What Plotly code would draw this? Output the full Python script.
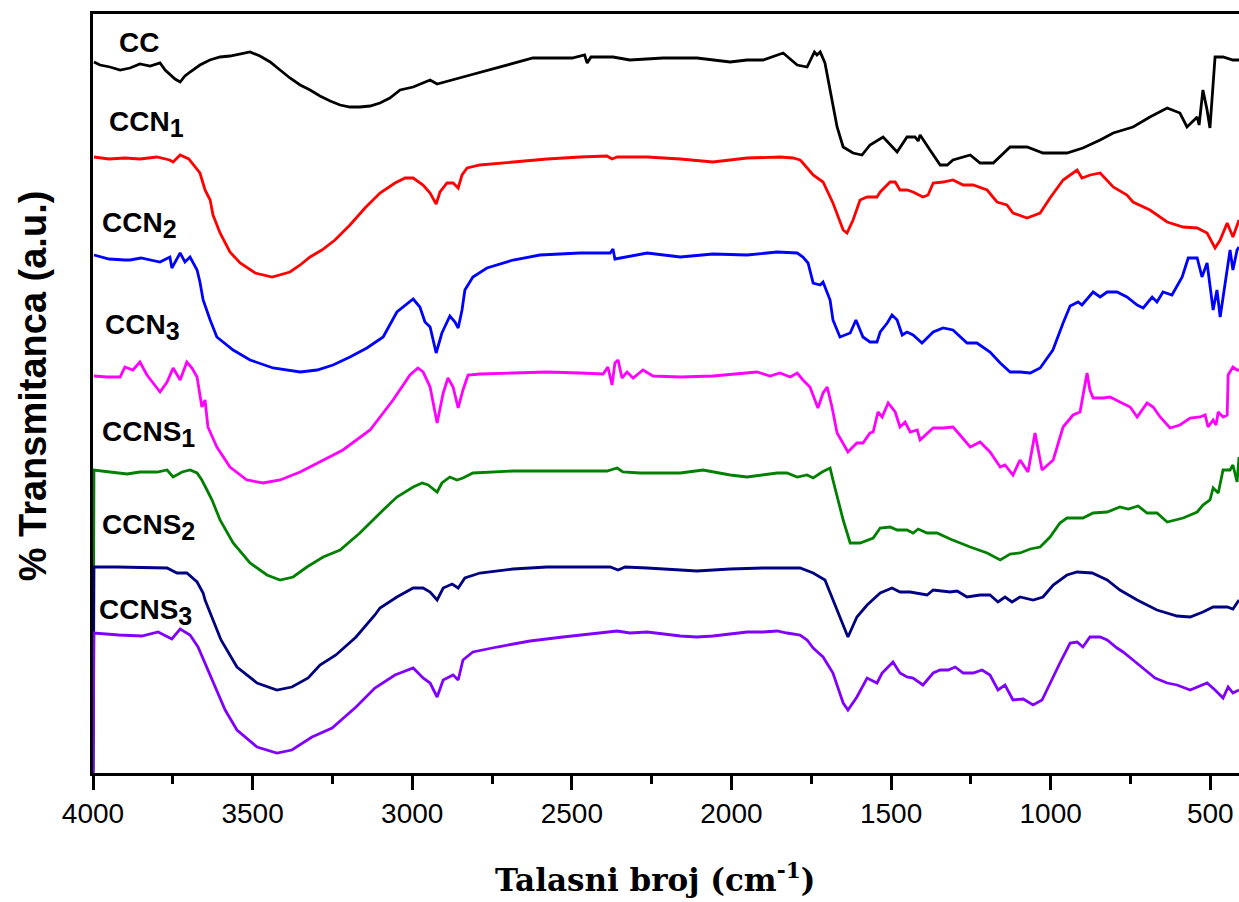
import plotly.graph_objects as go

# ---------------- data (wavenumber cm^-1, transmittance a.u. with offsets) ----------------
cc_x = [3997, 3978, 3947, 3915, 3884, 3853, 3821, 3790, 3774, 3759, 3743, 3727, 3712, 3696, 3665, 3634,
        3602, 3571, 3539, 3508, 3477, 3445, 3414, 3383, 3351, 3320, 3289, 3257, 3226, 3195, 3164, 3132,
        3101, 3070, 3038, 2997, 2944, 2922, 2841, 2734, 2622, 2499, 2460, 2452, 2440, 2371, 2318, 2214,
        2108, 2004, 1951, 1901, 1838, 1794, 1763, 1740, 1732, 1722, 1707, 1691, 1669, 1650, 1619, 1591,
        1566, 1525, 1481, 1450, 1425, 1415, 1409, 1378, 1346, 1324, 1306, 1252, 1221, 1180, 1127, 1074,
        1024, 949, 899, 845, 804, 742, 689, 635, 595, 573, 541, 535, 523, 510, 501, 485, 460, 429, 410]
cc_y = [711, 708, 706, 703, 705, 709, 707, 710, 703, 699, 694, 691, 697, 701, 708, 713,
        716, 717, 719, 721, 717, 711, 703, 695, 688, 683, 677, 672, 668, 666, 666, 667,
        670, 675, 683, 686, 693, 689, 696, 705, 715, 715, 718, 710, 716, 716, 713, 715,
        715, 711, 713, 713, 720, 708, 706, 721, 718, 721, 710, 683, 646, 626, 620, 618,
        628, 636, 621, 636, 636, 632, 638, 623, 608, 608, 613, 618, 610, 610, 626, 626,
        620, 620, 625, 633, 640, 646, 656, 665, 660, 646, 656, 648, 683, 663, 645, 716, 716, 713, 713]

ccn1_x = [3997, 3950, 3900, 3853, 3800, 3760, 3749, 3727, 3700, 3680, 3665, 3649, 3633, 3624, 3602, 3571,
          3539, 3492, 3439, 3383, 3351, 3320, 3283, 3242, 3195, 3148, 3101, 3054, 3022, 2997, 2966, 2944,
          2925, 2913, 2891, 2872, 2856, 2844, 2828, 2788, 2684, 2578, 2474, 2390, 2374, 2358, 2264, 2160,
          2058, 1951, 1848, 1807, 1785, 1776, 1744, 1713, 1682, 1650, 1638, 1619, 1597, 1575, 1544, 1534,
          1503, 1487, 1472, 1450, 1431, 1400, 1384, 1368, 1337, 1306, 1274, 1243, 1199, 1168, 1137, 1118,
          1074, 1033, 1002, 961, 939, 917, 902, 876, 845, 804, 761, 742, 689, 635, 585, 541, 510, 485,
          469, 447, 429, 410]
ccn1_y = [616, 614, 615, 614, 616, 613, 611, 618, 614, 606, 600, 583, 573, 558, 540, 521,
          510, 500, 496, 501, 508, 516, 523, 533, 548, 565, 580, 590, 595, 595, 588, 580,
          569, 581, 590, 590, 585, 598, 605, 608, 611, 614, 616, 617, 614, 616, 616, 614,
          611, 615, 616, 615, 613, 610, 598, 591, 570, 543, 540, 553, 573, 576, 576, 581,
          591, 591, 583, 583, 581, 576, 578, 590, 591, 593, 588, 588, 583, 571, 568, 560,
          555, 560, 575, 593, 598, 603, 595, 598, 600, 586, 578, 571, 563, 551, 546, 545, 540, 525,
          533, 550, 536, 553]

ccn2_x = [3997, 3950, 3900, 3884, 3850, 3790, 3759, 3753, 3727, 3712, 3696, 3674, 3665, 3655, 3633, 3612,
          3561, 3508, 3436, 3351, 3298, 3248, 3195, 3142, 3091, 3048, 2997, 2976, 2960, 2944, 2925, 2907,
          2882, 2866, 2856, 2844, 2835, 2810, 2766, 2684, 2600, 2474, 2380, 2371, 2365, 2264, 2160, 2058,
          1951, 1857, 1794, 1776, 1760, 1744, 1722, 1713, 1691, 1682, 1660, 1628, 1610, 1588, 1566, 1544,
          1534, 1512, 1497, 1481, 1465, 1450, 1431, 1403, 1368, 1337, 1306, 1262, 1231, 1190, 1158, 1127,
          1096, 1064, 1033, 993, 961, 939, 914, 902, 867, 845, 823, 792, 761, 729, 710, 682, 667, 648,
          620, 588, 569, 541, 526, 510, 491, 479, 469, 447, 438, 429, 416, 410]
ccn2_y = [518, 514, 513, 513, 515, 511, 516, 505, 520, 511, 516, 503, 491, 473, 453, 436,
          423, 413, 405, 401, 403, 408, 416, 425, 436, 461, 474, 466, 451, 446, 420, 440,
          457, 451, 445, 463, 483, 496, 505, 513, 518, 520, 520, 524, 514, 520, 516, 519,
          518, 521, 520, 516, 510, 490, 488, 491, 473, 453, 436, 440, 453, 436, 431, 431,
          441, 450, 458, 453, 438, 441, 438, 430, 441, 445, 443, 430, 430, 421, 410, 401,
          401, 400, 405, 423, 450, 467, 471, 468, 481, 476, 481, 481, 476, 468, 465, 476, 471, 481,
          478, 496, 515, 515, 496, 510, 463, 483, 456, 506, 523, 503, 523, 526]

ccn3_x = [3997, 3956, 3915, 3900, 3875, 3853, 3831, 3812, 3790, 3768, 3749, 3727, 3706, 3690, 3674, 3659,
          3649, 3640, 3612, 3571, 3518, 3467, 3414, 3351, 3289, 3217, 3132, 3060, 3007, 2982, 2966, 2944,
          2922, 2903, 2888, 2872, 2856, 2841, 2825, 2788, 2684, 2578, 2474, 2402, 2387, 2374, 2365, 2355,
          2343, 2327, 2308, 2277, 2246, 2160, 2058, 1920, 1879, 1848, 1816, 1794, 1776, 1754, 1729, 1713,
          1700, 1685, 1669, 1650, 1635, 1607, 1588, 1566, 1556, 1541, 1528, 1509, 1487, 1472, 1456, 1440,
          1418, 1409, 1393, 1368, 1337, 1306, 1284, 1252, 1221, 1190, 1158, 1143, 1118, 1096, 1071, 1049,
          1027, 992, 961, 930, 908, 886, 877, 867, 836, 814, 783, 751, 729, 698, 679, 657, 626, 595,
          563, 532, 516, 507, 491, 482, 475, 460, 447, 444, 429, 416, 410]
ccn3_y = [397, 396, 396, 406, 403, 411, 398, 390, 381, 391, 405, 393, 411, 405, 396, 366,
          373, 346, 326, 306, 293, 290, 293, 301, 311, 323, 343, 373, 398, 405, 401, 386,
          350, 380, 395, 386, 365, 383, 398, 399, 400, 401, 400, 399, 406, 388, 410, 413,
          395, 401, 395, 403, 397, 396, 397, 401, 397, 400, 396, 400, 393, 386, 365, 380,
          386, 366, 340, 330, 321, 330, 330, 340, 341, 361, 356, 370, 361, 346, 351, 341,
          343, 333, 338, 345, 345, 346, 338, 326, 331, 321, 306, 308, 298, 313, 301, 340,
          303, 313, 346, 358, 361, 400, 383, 375, 375, 376, 371, 366, 356, 370, 366, 356, 345, 348,
          355, 356, 358, 346, 353, 348, 361, 356, 358, 398, 406, 403, 403]

ccns1_x = [4000, 3997, 3947, 3893, 3853, 3799, 3768, 3749, 3721, 3696, 3674, 3659, 3643, 3627, 3602, 3561,
           3508, 3455, 3414, 3373, 3330, 3279, 3226, 3164, 3091, 3048, 2997, 2969, 2950, 2922, 2907, 2882,
           2860, 2841, 2810, 2684, 2578, 2474, 2390, 2358, 2340, 2286, 2160, 2089, 2004, 1951, 1901, 1857,
           1826, 1794, 1763, 1744, 1716, 1691, 1682, 1650, 1628, 1597, 1556, 1534, 1503, 1481, 1450, 1431,
           1415, 1387, 1356, 1315, 1252, 1199, 1158, 1127, 1096, 1064, 1033, 1002, 971, 949, 899, 867,
           823, 783, 757, 726, 698, 667, 635, 585, 541, 523, 501, 491, 475, 460, 438, 429, 416, 410]
ccns1_y = [0, 303, 301, 299, 301, 301, 303, 296, 301, 303, 300, 293, 283, 273, 253, 230,
           210, 198, 193, 196, 206, 216, 223, 240, 263, 276, 286, 290, 288, 281, 290, 296,
           293, 295, 300, 302, 302, 302, 302, 305, 301, 300, 300, 303, 298, 296, 298, 300,
           300, 296, 298, 295, 301, 305, 293, 253, 230, 230, 235, 245, 246, 243, 243, 240,
           244, 240, 240, 234, 226, 220, 213, 219, 220, 224, 226, 236, 250, 255, 255, 260,
           261, 266, 264, 267, 260, 260, 251, 255, 261, 268, 273, 285, 280, 303, 303, 308, 291, 316]

ccns2_x = [4000, 3997, 3925, 3821, 3768, 3737, 3706, 3674, 3655, 3649, 3599, 3549, 3486, 3424, 3377, 3326,
           3289, 3239, 3176, 3117, 3101, 3048, 2997, 2966, 2944, 2922, 2903, 2875, 2856, 2835, 2788, 2684,
           2578, 2474, 2380, 2355, 2333, 2264, 2160, 2108, 2004, 1901, 1785, 1744, 1707, 1682, 1650, 1635,
           1607, 1575, 1534, 1497, 1472, 1440, 1387, 1368, 1315, 1293, 1262, 1221, 1190, 1165, 1143, 1121,
           1096, 1055, 1024, 992, 949, 917, 870, 823, 783, 729, 667, 604, 563, 523, 491, 447, 429, 410]
ccns2_y = [0, 206, 206, 205, 205, 200, 200, 191, 180, 173, 133, 106, 90, 83, 86, 95,
           108, 118, 136, 158, 165, 176, 185, 185, 181, 173, 185, 189, 185, 195, 200, 204,
           206, 206, 206, 203, 206, 205, 203, 202, 204, 205, 205, 200, 193, 173, 146, 136,
           156, 168, 180, 185, 181, 181, 178, 183, 181, 182, 176, 178, 178, 171, 176, 171,
           176, 173, 176, 188, 198, 201, 200, 193, 183, 173, 163, 157, 156, 161, 166, 166, 164, 173]

ccns3_x = [4000, 3997, 3919, 3847, 3796, 3753, 3727, 3696, 3671, 3649, 3624, 3586, 3549, 3486, 3424, 3377,
           3314, 3251, 3176, 3117, 3054, 2997, 2966, 2944, 2922, 2903, 2872, 2856, 2841, 2810, 2734, 2631,
           2528, 2421, 2358, 2318, 2264, 2160, 2108, 2058, 2004, 1951, 1901, 1857, 1826, 1785, 1763, 1744,
           1713, 1682, 1650, 1635, 1607, 1575, 1544, 1528, 1494, 1472, 1450, 1431, 1400, 1368, 1346, 1321,
           1299, 1274, 1243, 1215, 1190, 1165, 1143, 1118, 1086, 1055, 1027, 1002, 971, 939, 917, 899,
           877, 845, 823, 792, 773, 742, 710, 673, 635, 604, 563, 538, 510, 485, 460, 444, 429, 410]
ccns3_y = [0, 140, 138, 137, 141, 134, 144, 138, 126, 110, 90, 63, 43, 26, 20, 23,
           36, 45, 66, 85, 98, 105, 95, 90, 76, 93, 98, 93, 113, 121, 126, 132,
           136, 140, 142, 140, 141, 137, 136, 137, 139, 141, 141, 142, 140, 138, 133, 125,
           116, 100, 70, 63, 76, 95, 90, 100, 111, 100, 96, 95, 88, 100, 103, 103,
           106, 100, 100, 103, 98, 83, 88, 73, 74, 68, 73, 90, 110, 130, 131, 126,
           136, 136, 133, 125, 121, 113, 105, 95, 90, 88, 83, 86, 90, 83, 75, 86, 80, 83]

series_base = ["CC", "CCN", "CCN", "CCN", "CCNS", "CCNS", "CCNS"]
series_sub = ["", "1", "2", "3", "1", "2", "3"]
series_x = [cc_x, ccn1_x, ccn2_x, ccn3_x, ccns1_x, ccns2_x, ccns3_x]
series_y = [cc_y, ccn1_y, ccn2_y, ccn3_y, ccns1_y, ccns2_y, ccns3_y]
colors = ["#000000", "#FF0000", "#0000FF", "#FF00FF", "#008000", "#000080", "#8000FF"]

label_x = [3925, 3956, 3978, 3969, 3978, 3978, 3988]
label_y = [731, 649, 548, 446, 339, 246, 161]

tick_vals = [4000, 3500, 3000, 2500, 2000, 1500, 1000, 500]
tick_text = ["4000", "3500", "3000", "2500", "2000", "1500", "1000", "500"]
minor_vals = [3750, 3250, 2750, 2250, 1750, 1250, 750]

# ---------------- figure ----------------
fig = go.Figure()
for xs, ys, c, b, s in zip(series_x, series_y, colors, series_base, series_sub):
    fig.add_trace(go.Scatter(x=xs, y=ys, mode="lines", line=dict(color=c, width=2.8),
                             name=b + s, showlegend=False, hoverinfo="skip"))

for lx, ly, b, s in zip(label_x, label_y, series_base, series_sub):
    txt = "<b>" + b + "</b>"
    if s:
        txt += "<sub><b><span style='font-size:25px'>" + s + "</span></b></sub>"
    fig.add_annotation(x=lx, y=ly, xref="x", yref="y", text=txt,
                       showarrow=False, xanchor="left", yanchor="middle",
                       font=dict(family="Liberation Sans, Arial", size=28, color="black"))

fig.add_annotation(x=0.49, y=-0.138, xref="paper", yref="paper",
                   text="<b>Talasni broj (cm<sup>-1</sup>)</b>", showarrow=False,
                   xanchor="center", yanchor="middle",
                   font=dict(family="DejaVu Serif", size=31, color="black"))
fig.add_annotation(x=-0.052, y=0.51, xref="paper", yref="paper",
                   text="<b>% Transmitanca (a.u.)</b>", showarrow=False, textangle=-90,
                   xanchor="center", yanchor="middle",
                   font=dict(family="Liberation Sans, Arial", size=38, color="black"))

fig.update_xaxes(range=[4000, 410], tickmode="array", tickvals=tick_vals, ticktext=tick_text,
                 ticks="outside", ticklen=14, tickwidth=2.5, tickcolor="black",
                 minor=dict(tickmode="array", tickvals=minor_vals,
                            ticks="outside", ticklen=8, tickwidth=2.5, tickcolor="black"),
                 showline=True, linewidth=2.5, linecolor="black", mirror=True,
                 showgrid=False, zeroline=False,
                 tickfont=dict(family="Liberation Sans, Arial", size=28, color="black"))
fig.update_yaxes(range=[0, 759], showline=True, linewidth=2.5, linecolor="black",
                 showticklabels=False, ticks="", showgrid=False, zeroline=False)

fig.update_layout(width=1239, height=902, margin=dict(l=93, r=0, t=14, b=129),
                  paper_bgcolor="white", plot_bgcolor="white")

fig.write_html("out.html")
